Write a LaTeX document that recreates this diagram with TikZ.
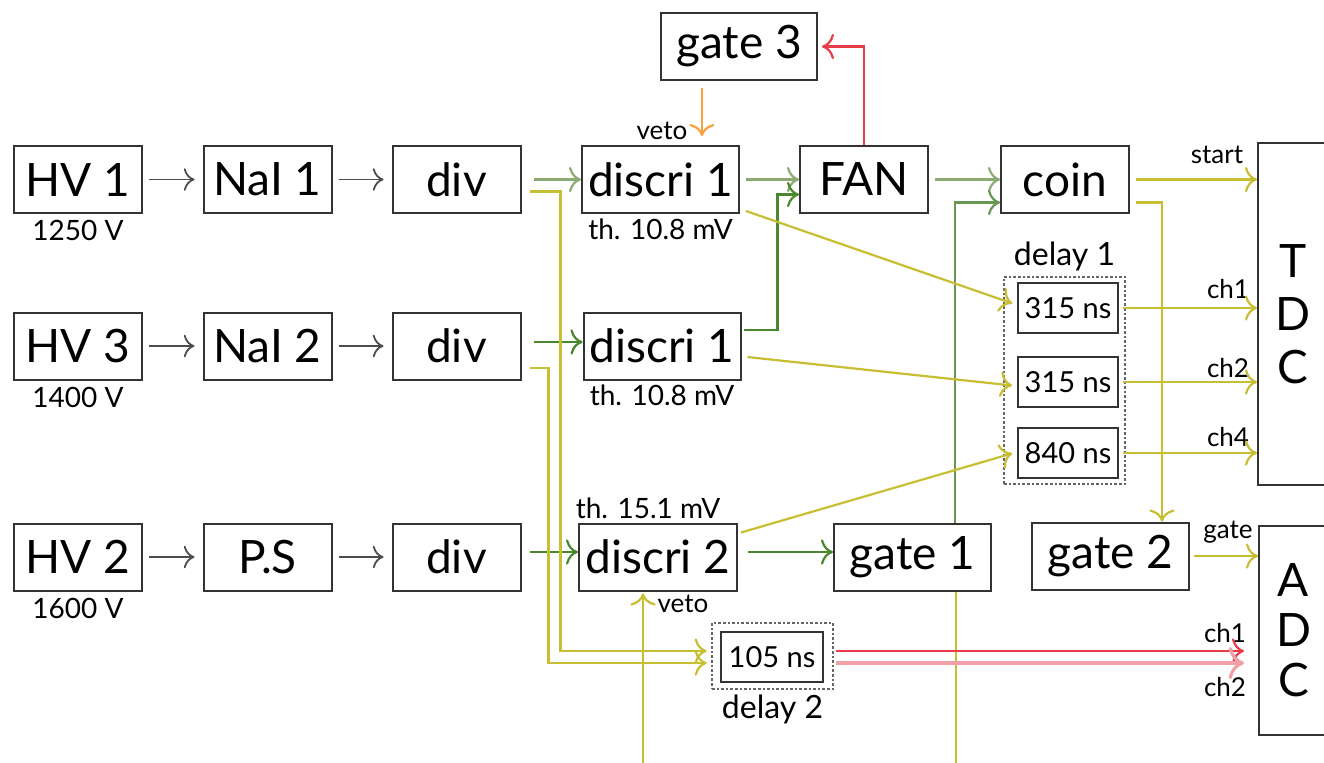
\documentclass[tikz,border=0pt]{standalone}
\usepackage{fontspec}
\setmainfont{Lato}
\usepackage{tikz}
\usetikzlibrary{arrows.meta}

\definecolor{grn}{RGB}{140,170,115}
\definecolor{dgrn}{RGB}{75,135,45}
\definecolor{mgrn}{RGB}{105,150,85}
\definecolor{yel}{RGB}{200,190,50}
\definecolor{rd}{RGB}{232,60,72}
\definecolor{pnk}{RGB}{242,160,168}
\definecolor{org}{RGB}{250,160,60}

\begin{document}
\begin{tikzpicture}[x=0.5pt,y=-0.5pt,>={To[scale=1.5]}]
      \tikzstyle{box}=[rectangle,draw=black!80,line width=1pt,inner sep=0pt,minimum width=64pt,minimum height=33.5pt,font=\fontsize{23}{27}\selectfont]
      \tikzstyle{dbox}=[box,minimum width=50pt,minimum height=25pt,font=\fontsize{14.5}{16}\selectfont]
      \tikzstyle{grp}=[rectangle,draw=black!60,densely dotted,line width=1.3pt,inner sep=0pt]
      \tikzstyle{lbl}=[inner sep=1pt,font=\fontsize{14}{16}\selectfont]
      \tikzstyle{tag}=[inner sep=1pt,font=\fontsize{13}{15}\selectfont]
      \tikzstyle{gar}=[->,draw=black!70,line width=0.9pt,shorten <=3pt,shorten >=4pt]
      \tikzstyle{sig}=[->,line width=1.1pt]
      \useasboundingbox (0,0) rectangle (1324,762);
      \clip (0,0) rectangle (1324,762);

      \node[grp,minimum width=60.5pt,minimum height=103.5pt] (dly1) at (1064.5,380.5) {};
      \node[grp,minimum width=60.5pt,minimum height=33pt] (dly2) at (772.5,656) {};

      \node[box] (hv1) at (78,179.5) {HV 1};
      \node[box] (nai1) at (267.5,179.5) {NaI 1};
      \node[box] (div1) at (456.5,179.5) {div};
      \node[box,minimum width=78.5pt] (dis1) at (660.5,179.5) {discri 1};
      \node[box] (fan) at (864,179.5) {FAN};
      \node[box] (coin) at (1065,179.5) {coin};
      \node[box,minimum width=78pt] (gate3) at (739,46.5) {gate 3};

      \node[box] (hv3) at (78,346) {HV 3};
      \node[box] (nai2) at (267.5,346) {NaI 2};
      \node[box] (div2) at (456.5,346) {div};
      \node[box,minimum width=78.5pt] (dis1b) at (662,346) {discri 1};

      \node[box] (hv2) at (78,557) {HV 2};
      \node[box] (ps) at (267.5,557) {P.S};
      \node[box] (div3) at (456.5,557) {div};
      \node[box,minimum width=79pt] (dis2) at (658,557) {discri 2};
      \node[box,minimum width=78.5pt] (gate1) at (912.5,557) {gate 1};
      \node[box,minimum width=78.5pt] (gate2) at (1110.5,556) {gate 2};

      \node[dbox] (dlya) at (1068,308) {315 ns};
      \node[dbox] (dlyb) at (1068,382) {315 ns};
      \node[dbox] (dlyc) at (1068,453) {840 ns};
      \node[dbox,minimum width=51pt] (d105) at (772,657) {105 ns};

      \node[box,minimum width=35pt,minimum height=171pt,align=center,font=\fontsize{23}{26.5}\selectfont] (tdc) at (1293,314) {T\\D\\C};
      \node[box,minimum width=34.5pt,minimum height=104.5pt,align=center,font=\fontsize{23}{25}\selectfont] (adc) at (1293.5,630.5) {A\\D\\C};

      \node[lbl,below=2pt] (v1) at (hv1.south) {1250 V};
      \node[lbl,below=2pt] (v3) at (hv3.south) {1400 V};
      \node[lbl,below=2pt] (v2) at (hv2.south) {1600 V};
      \node[lbl,below=1pt] (th1) at (dis1.south) {th. 10.8 mV};
      \node[lbl,below=1pt] (th1b) at (dis1b.south) {th. 10.8 mV};
      \node[lbl,above=0.5pt,xshift=-5pt] (th2) at (dis2.north) {th. 15.1 mV};
      \node[lbl,above=1pt,font=\fontsize{16}{18}\selectfont] (ld1) at (dly1.north) {delay 1};
      \node[lbl,below=1pt,font=\fontsize{16}{18}\selectfont] (ld2) at (dly2.south) {delay 2};
      \node[tag] (veto1) at (662,131) {veto};
      \node[tag] (veto2) at (683,604) {veto};
      \node[tag] (st) at (1217,155) {start};
      \node[tag] (t1) at (1228,289) {ch1};
      \node[tag] (t2) at (1228,368) {ch2};
      \node[tag] (t4) at (1228,437) {ch4};
      \node[tag] (gt) at (1228,532) {gate};
      \node[tag] (a1) at (1225,633) {ch1};
      \node[tag] (a2) at (1225,687) {ch2};

      \draw[gar] (hv1) -- (nai1);
      \draw[gar] (nai1) -- (div1);
      \draw[gar] (hv3) -- (nai2);
      \draw[gar] (nai2) -- (div2);
      \draw[gar] (hv2) -- (ps);
      \draw[gar] (ps) -- (div3);

      \draw[sig,grn,shorten <=6pt] (div1) -- (dis1);
      \draw[sig,dgrn,shorten <=6pt] ([yshift=2pt]div2.east) -- ([yshift=2pt]dis1b.west);
      \draw[sig,dgrn,shorten <=4pt] ([yshift=2.5pt]div3.east) -- ([yshift=2.5pt]dis2.west);
      \draw[sig,grn,shorten <=3pt] (dis1) -- (fan);
      \draw[sig,dgrn] ([xshift=1pt,yshift=8pt]dis1b.east) -- ++(34,0) |- ([yshift=-7.5pt]fan.west);
      \draw[sig,grn,shorten <=3pt] (fan) -- (coin);
      \draw[sig,mgrn] ([xshift=21.25pt]gate1.north) |- ([yshift=-11.5pt]coin.west);
      \draw[sig,dgrn,shorten <=5pt] ([yshift=2.5pt]dis2.east) -- ([yshift=2.5pt]gate1.west);

      \draw[sig,rd,shorten >=2pt] (fan.north) |- (gate3.east);
      \draw[sig,org,shorten <=3.5pt,shorten >=4.5pt] ([xshift=-18.5pt]gate3.south) -- ([xshift=-18.5pt]gate3.south |- dis1.north);

      \draw[sig,yel,shorten <=3pt] (coin) -- (tdc.west |- coin);
      \draw[sig,yel] ([xshift=3pt,yshift=-11.5pt]coin.east) -| ([xshift=25.75pt]gate2.north);
      \draw[sig,yel,shorten <=2pt] (gate2) -- (adc.west |- gate2);
      \draw[sig,yel,shorten >=2.5pt] ([xshift=3pt,yshift=1.5pt]dis1.south east) -- ([yshift=1.5pt]dlya.west);
      \draw[sig,yel,shorten >=2.5pt] ([xshift=3pt,yshift=-5.5pt]dis1b.east) -- ([yshift=-2pt]dlyb.west);
      \draw[sig,yel,shorten >=2.5pt] ([xshift=1.5pt,yshift=-5pt]dis2.north east) -- ([yshift=0.5pt]dlyc.west);
      \draw[sig,yel,shorten <=2pt] (dlya) -- (tdc.west |- dlya);
      \draw[sig,yel,shorten <=2pt] (dlyb) -- (tdc.west |- dlyb);
      \draw[sig,yel,shorten <=2pt] (dlyc) -- (tdc.west |- dlyc);
      \draw[sig,yel,shorten >=2pt] ([xshift=4pt,yshift=-6pt]div1.east) -- ++(31,0) |- ([yshift=2.5pt]dly2.west);
      \draw[sig,yel,shorten >=2pt] ([xshift=4pt,yshift=-11pt]div2.east) -- ++(19,0) |- ([yshift=-3.5pt]dly2.west);
      \draw[yel,line width=1.1pt] ([xshift=21.75pt]gate1.south) -- ++(0,200);
      \draw[yel,line width=1.1pt,<-] ([xshift=-7.5pt,yshift=-1pt]dis2.south) -- ++(0,200);

      \draw[sig,rd,shorten <=1pt,shorten >=7pt] ([yshift=2.5pt]dly2.east) -- ([yshift=2.5pt]dly2.east -| adc.west);
      \draw[sig,pnk,line width=1.6pt,shorten <=1pt,shorten >=7pt] ([yshift=-3.5pt]dly2.east) -- ([yshift=-3.5pt]dly2.east -| adc.west);
\end{tikzpicture}
\end{document}
